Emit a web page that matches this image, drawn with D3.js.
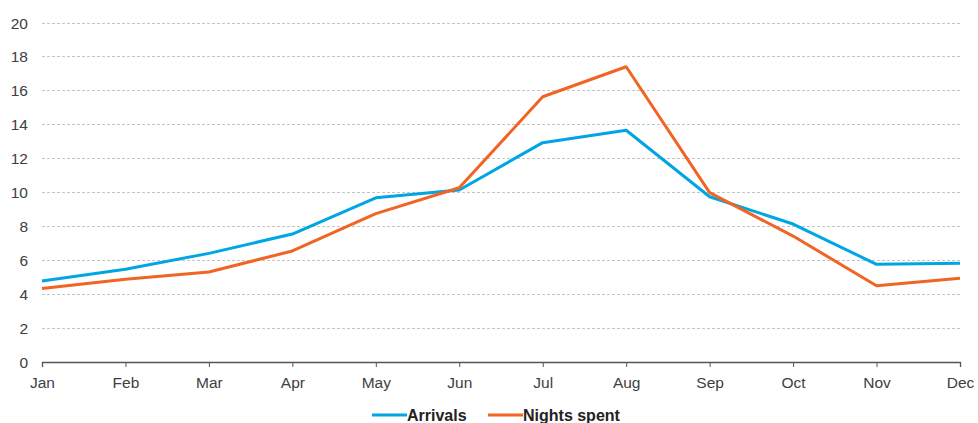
<!DOCTYPE html>
<html><head><meta charset="utf-8">
<script src="https://cdn.jsdelivr.net/npm/d3@7"></script>
<style>
html,body{margin:0;padding:0;background:#fff;}
svg{display:block;font-family:"Liberation Sans",Arial,sans-serif;}
</style></head>
<body><svg id="c" width="978" height="423"></svg>
<script>
const months = ["Jan","Feb","Mar","Apr","May","Jun","Jul","Aug","Sep","Oct","Nov","Dec"];
const arrivals = [4.78,5.47,6.41,7.55,9.69,10.15,12.94,13.67,9.75,8.14,5.76,5.82];
const nights = [4.33,4.88,5.31,6.55,8.75,10.28,15.65,17.42,9.99,7.43,4.50,4.94];
const yTicks = [0,2,4,6,8,10,12,14,16,18,20];
const seriesNames = ["Arrivals","Nights spent"];
const seriesColors = ["#00A5E3","#F06424"];

const svg = d3.select("#c");
const x = d3.scalePoint().domain(months).range([42,960]);
const y = d3.scaleLinear().domain([0,20]).range([362,23]);

// gridlines
svg.append("g").selectAll("line").data(yTicks.filter(d=>d>0)).join("line")
  .attr("x1",42).attr("x2",960).attr("y1",d=>y(d)).attr("y2",d=>y(d))
  .attr("stroke","#c4c4c4").attr("stroke-width",1).attr("stroke-dasharray","3,2")
  .attr("shape-rendering","crispEdges");

// y labels
svg.append("g").selectAll("text").data(yTicks).join("text")
  .attr("x",28).attr("y",d=>y(d)+5.5).attr("text-anchor","end")
  .attr("font-size",15.5).attr("fill","#404040").text(d=>d);

// x axis
const xa = svg.append("g").attr("transform","translate(0,362)")
  .call(d3.axisBottom(x).tickSize(5).tickPadding(0));
xa.select(".domain").attr("stroke","#555").attr("stroke-width",1.3);
xa.selectAll(".tick line").attr("stroke","#555");
xa.selectAll("text").attr("font-size",15.5).attr("fill","#404040").attr("dy",null).attr("y",26)
  .attr("font-family","'Liberation Sans',Arial,sans-serif");

const line = d3.line().x((d,i)=>x(months[i])).y(d=>y(d));
[arrivals,nights].forEach((s,k)=>{
  svg.append("path").datum(s).attr("d",line).attr("fill","none")
    .attr("stroke",seriesColors[k]).attr("stroke-width",3).attr("stroke-linejoin","round");
});

// legend
const leg = [{x:372},{x:488}];
seriesNames.forEach((n,k)=>{
  const g = svg.append("g").attr("transform",`translate(${leg[k].x},415)`);
  g.append("line").attr("x1",0).attr("x2",35).attr("y1",0).attr("y2",0)
    .attr("stroke",seriesColors[k]).attr("stroke-width",3);
  g.append("text").attr("x",35).attr("y",6).attr("font-size",16).attr("font-weight","bold")
    .attr("fill","#222").text(n);
});
</script></body></html>
